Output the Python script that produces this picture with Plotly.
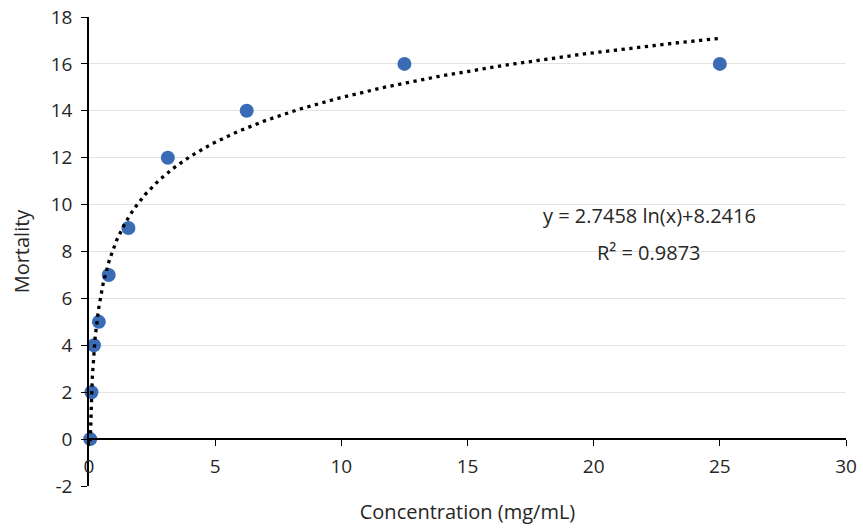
import numpy as np
import plotly.graph_objects as go

# Data (serial dilution concentrations, mg/mL) and mortality counts
concentration = [0.048828125, 0.09765625, 0.1953125, 0.390625, 0.78125,
                 1.5625, 3.125, 6.25, 12.5, 25]
mortality = [0, 2, 4, 5, 7, 9, 12, 14, 16, 16]

x_ticks = [0, 5, 10, 15, 20, 25, 30]
y_ticks = [-2, 0, 2, 4, 6, 8, 10, 12, 14, 16, 18]

equation_text = "y = 2.7458 ln(x)+8.2416"
r2_text = "R² = 0.9873"

# Logarithmic trendline fitted from the data
xa = np.array(concentration)
slope, intercept = np.polyfit(np.log(xa), np.array(mortality), 1)
xt = np.geomspace(xa.min(), xa.max(), 400)
yt = slope * np.log(xt) + intercept

FONT = "Open Sans"
TXT = "#262626"
FS = 19

fig = go.Figure()
fig.add_trace(go.Scatter(
    x=concentration, y=mortality, mode="markers",
    marker=dict(color="#3A6CB6", size=14),
    cliponaxis=False,
))
fig.add_trace(go.Scatter(
    x=xt, y=yt, mode="lines",
    line=dict(color="black", width=3.3, dash="3.3px,4.5px"),
    hoverinfo="skip", cliponaxis=False,
))

fig.add_annotation(x=22.2, y=9.55, xref="x", yref="y", text=equation_text,
                   showarrow=False, font=dict(size=20, color=TXT, family=FONT))
fig.add_annotation(x=22.2, y=7.95, xref="x", yref="y", text=r2_text,
                   showarrow=False, font=dict(size=20, color=TXT, family=FONT))

fig.update_layout(
    width=863, height=529,
    margin=dict(l=89, r=17, t=17, b=43),
    paper_bgcolor="white", plot_bgcolor="white",
    showlegend=False,
    font=dict(family=FONT, size=FS, color=TXT),
    xaxis=dict(
        range=[0, 30], tickvals=x_ticks, ticktext=[str(v) for v in x_ticks],
        ticks="outside", ticklen=6, ticklabelstandoff=4,
        tickcolor="black", showline=True, linecolor="black", linewidth=1.5,
        showgrid=False, zeroline=False, anchor="free", position=0.1,
        automargin=False,
        title=dict(text="Concentration (mg/mL)", standoff=26,
                   font=dict(size=20, color=TXT)),
        tickfont=dict(size=FS, color=TXT),
    ),
    yaxis=dict(
        range=[-2, 18], tickvals=y_ticks, ticktext=[str(v) for v in y_ticks],
        ticks="outside", ticklen=6, ticklabelstandoff=5, automargin=False,
        tickcolor="black", showline=True, linecolor="black", linewidth=1.5,
        showgrid=True, gridcolor="#e3e3e3", gridwidth=1, zeroline=False,
        title=dict(text="Mortality", standoff=16, font=dict(size=20, color=TXT)),
        tickfont=dict(size=FS, color=TXT),
    ),
)

fig.write_html("out.html", config={"displayModeBar": False},
               post_script="document.body.style.margin='0';")
